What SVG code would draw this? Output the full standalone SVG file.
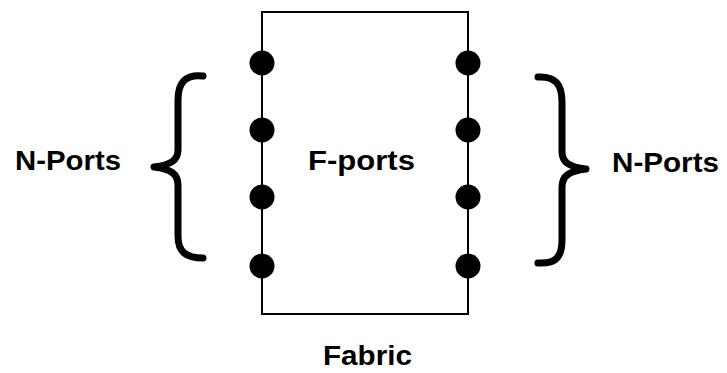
<svg xmlns="http://www.w3.org/2000/svg" width="727" height="373" viewBox="0 0 727 373">
<style>
.lbl{font-family:"Liberation Sans",Arial,sans-serif;font-weight:bold;font-size:28px;fill:#000}
.brace{fill:none;stroke:#000;stroke-width:7;stroke-linecap:round;stroke-linejoin:round}
.dot{fill:#000}
</style>
<rect width="727" height="373" fill="#fff"/>
<g id="fabric">
<rect x="262" y="12" width="206" height="302" fill="none" stroke="#000" stroke-width="2"/>
<text class="lbl" x="308" y="170" textLength="107" lengthAdjust="spacingAndGlyphs">F-ports</text>
<text class="lbl" x="323" y="365" textLength="89" lengthAdjust="spacingAndGlyphs">Fabric</text>
</g>
<g id="f-ports-left">
<circle class="dot" cx="262" cy="63" r="12.5"/>
<circle class="dot" cx="262" cy="130" r="12.5"/>
<circle class="dot" cx="262" cy="197" r="12.5"/>
<circle class="dot" cx="262" cy="266" r="12.5"/>
</g>
<g id="f-ports-right">
<circle class="dot" cx="468" cy="63" r="12.5"/>
<circle class="dot" cx="468" cy="130" r="12.5"/>
<circle class="dot" cx="468" cy="197" r="12.5"/>
<circle class="dot" cx="468" cy="266" r="12.5"/>
</g>
<g id="n-ports-left">
<path class="brace" d="M203 76 C186 74 178 82 178 100 L178 150 C178 160 171 165 154 167 C171 169 178 174 178 185 L178 236 C178 252 186 258 203 258"/>
<text class="lbl" x="15" y="170" textLength="106" lengthAdjust="spacingAndGlyphs">N-Ports</text>
</g>
<g id="n-ports-right">
<path class="brace" d="M538 77 C555 76 562 84 562 102 L562 152 C562 162 569 167 586 169 C569 171 562 176 562 187 L562 240 C562 258 555 264 538 263"/>
<text class="lbl" x="612" y="172" textLength="107" lengthAdjust="spacingAndGlyphs">N-Ports</text>
</g>
<g id="connectors"></g>
</svg>
